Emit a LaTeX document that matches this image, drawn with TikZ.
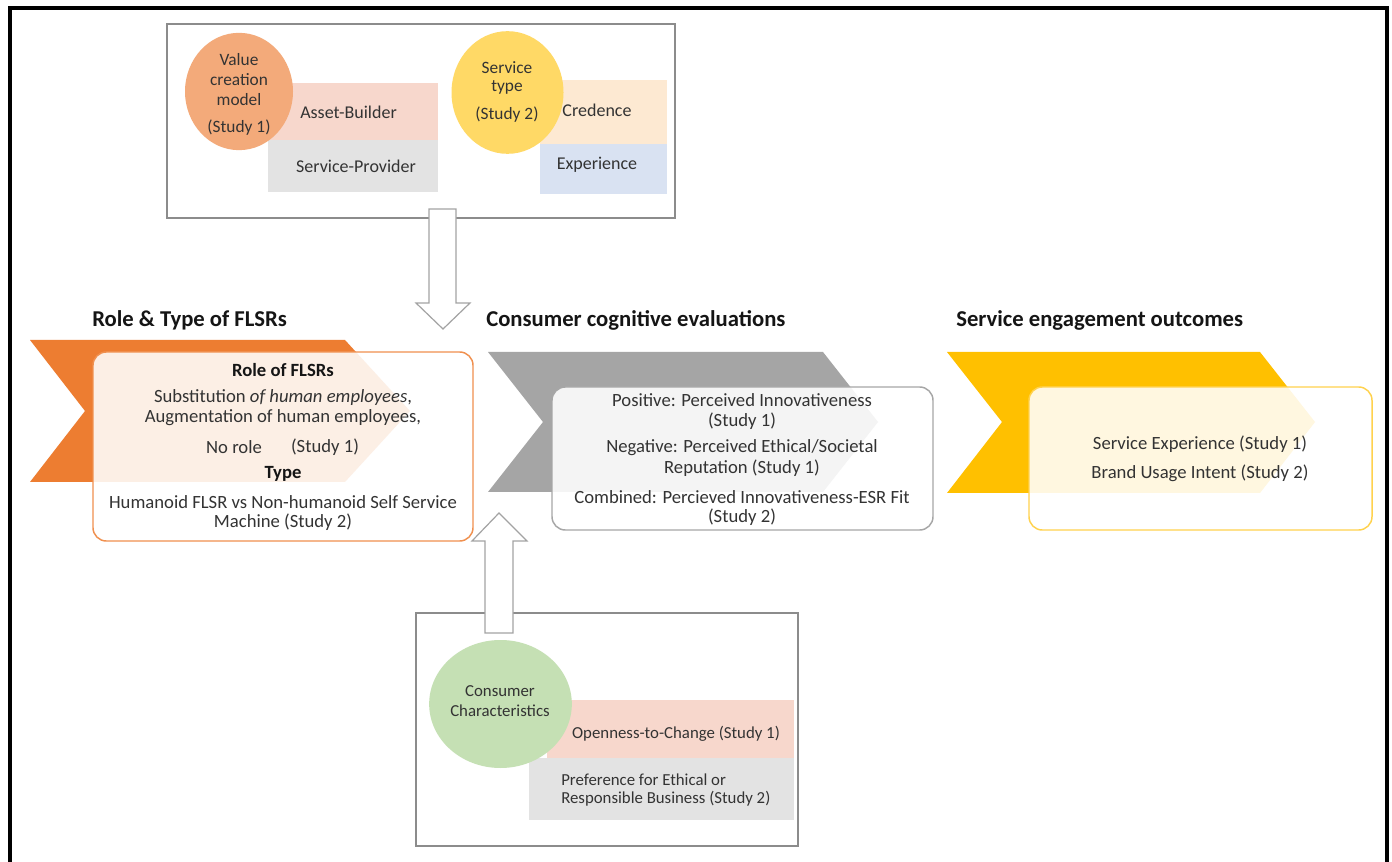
\documentclass[tikz,border=0pt]{standalone}
\usepackage{fontspec}
\setmainfont{Carlito}
\usetikzlibrary{shapes.geometric}
\definecolor{txt}{HTML}{333333}
\definecolor{head}{HTML}{151515}
\definecolor{boxgray}{HTML}{8C8C8C}
\definecolor{corange}{HTML}{F3AA7A}
\definecolor{cyellow}{HTML}{FFD966}
\definecolor{cgreen}{HTML}{C5E0B4}
\definecolor{rpink}{HTML}{F7D7CC}
\definecolor{rgray}{HTML}{E3E3E3}
\definecolor{rpeach}{HTML}{FDE9D2}
\definecolor{rblue}{HTML}{D9E2F2}
\definecolor{chorange}{HTML}{ED7D31}
\definecolor{chgray}{HTML}{A5A5A5}
\definecolor{chyellow}{HTML}{FFC000}
\definecolor{bdorange}{HTML}{F0904F}
\definecolor{bdgray}{HTML}{A6A6A6}
\definecolor{bdyellow}{HTML}{FFD24D}
\tikzset{
  t/.style={inner sep=0pt, text=txt, font=\fontsize{13.5}{15}\selectfont},
  tc/.style={inner sep=0pt, text=txt, font=\fontsize{13}{15}\selectfont},
  tl/.style={inner sep=0pt, text=txt, font=\fontsize{12.6}{15}\selectfont},
  tb/.style={inner sep=0pt, text=txt, font=\fontsize{14}{16}\selectfont},
  tbb/.style={inner sep=0pt, text=head, font=\fontsize{14}{16}\selectfont\bfseries},
  hd/.style={inner sep=0pt, text=head, font=\fontsize{17}{20}\selectfont\bfseries, anchor=west},
  frame/.style={draw=boxgray, line width=1.1pt, fill=white},
  blockarrow/.style={draw=boxgray!80, line width=0.9pt, fill=white},
  rbox/.style={rectangle, rounded corners=10pt, line width=1.1pt, fill=white, fill opacity=0.88, text opacity=1, inner sep=0pt},
  rect/.style={rectangle, inner sep=0pt, draw=none},
  bub/.style={ellipse, inner sep=0pt, draw=none},
}
\begin{document}
\begin{tikzpicture}[x=0.75pt,y=-0.75pt]
\useasboundingbox (0,0) rectangle (1392,862);
\fill[white] (0,0) rectangle (1392,862);
% outer frame
\draw[line width=2.3pt, black] (10,870) -- (10,8) -- (1387,8) -- (1387,870);

% ---------- top box
\node[frame, rectangle, minimum width=381pt, minimum height=145.5pt, inner sep=0pt] (top) at (421,121) {};
\node[rect, fill=rpink, minimum width=127.5pt, minimum height=42.75pt] (ab) at (353,111.5) {};
\node[rect, fill=rgray, minimum width=127.5pt, minimum height=39pt] (sp) at (353,166) {};
\node[bub, fill=corange, minimum width=81pt, minimum height=88pt] (vc) at (239,91.5) {};
\node[t, anchor=west] (abt) at (300,112) {Asset-Builder};
\node[t] (spt) at (356,166) {Service-Provider};
\node[tc] (vc1) at (239,60) {Value};
\node[tc] (vc2) at (239,80) {creation};
\node[tc] (vc3) at (239,100) {model};
\node[tc] (vc4) at (239,128) {(Study 1)};

\node[rect, fill=rpeach, minimum width=95.25pt, minimum height=48pt] (cr) at (603.5,112) {};
\node[rect, fill=rblue, minimum width=95.25pt, minimum height=37.5pt] (ex) at (603.5,169) {};
\node[bub, fill=cyellow, minimum width=84pt, minimum height=92pt] (st) at (507.5,92.5) {};
\node[t] (crt) at (597,110) {Credence};
\node[t] (ext) at (597,165) {Experience};
\node[tc] (st1) at (507,68) {Service};
\node[tc] (st2) at (507,87) {type};
\node[tc] (st3) at (507,115) {(Study 2)};

% down arrow
\draw[blockarrow] (429,209) -- (456,209) -- (456,303) -- (470,303) -- (443,329) -- (416,303) -- (429,303) -- cycle;

% ---------- headings
\node[hd] (h1) at (92,320) {Role \& Type of FLSRs};
\node[hd] (h2) at (486,320) {Consumer cognitive evaluations};
\node[hd] (h3) at (956,320) {Service engagement outcomes};

% ---------- chevrons
\fill[chorange] (30,340) -- (345,340) -- (410,411) -- (345,482) -- (30,482) -- (85,411) -- cycle;
\fill[chgray] (488,352) -- (823,352) -- (878,422) -- (823,492) -- (488,492) -- (543,422) -- cycle;
\fill[chyellow] (947,352) -- (1260,352) -- (1315,422) -- (1260,493) -- (947,493) -- (1002,422) -- cycle;

% ---------- content boxes
\node[rbox, draw=bdorange, minimum width=285pt, minimum height=141.75pt] (b1) at (283,446.5) {};
\node[rbox, draw=bdgray, minimum width=285.75pt, minimum height=107.25pt] (b2) at (742.5,458.5) {};
\node[rbox, draw=bdyellow, minimum width=257.25pt, minimum height=107.25pt] (b3) at (1200.5,458.5) {};

\node[tbb] (b1a) at (283,370) {Role of FLSRs};
\node[tb] (b1b) at (283,398) {Substitution \textit{of human employees},};
\node[tb] (b1c) at (283,418) {Augmentation of human employees,};
\node[tb] (b1d) at (234,447) {No role};
\node[tb] (b1e) at (325,447) {(Study 1)};
\node[tbb] (b1f) at (283,474) {Type};
\node[tb] (b1g) at (283,502) {Humanoid FLSR vs Non-humanoid Self Service};
\node[tb] (b1h) at (283,522) {Machine (Study 2)};

\node[tb] (b2a) at (742,400) {Positive: Perceived Innovativeness};
\node[tb] (b2b) at (742,421) {(Study 1)};
\node[tb] (b2c) at (742,448) {Negative: Perceived Ethical/Societal};
\node[tb] (b2d) at (742,468) {Reputation (Study 1)};
\node[tb] (b2e) at (742,497) {Combined: Percieved Innovativeness-ESR Fit};
\node[tb] (b2f) at (742,517) {(Study 2)};

\node[tb] (b3a) at (1200,444) {Service Experience (Study 1)};
\node[tb] (b3b) at (1200,473) {Brand Usage Intent (Study 2)};

% ---------- bottom box
\node[frame, rectangle, minimum width=286.5pt, minimum height=174.75pt, inner sep=0pt] (bot) at (607,729.5) {};
\node[rect, fill=rpink, minimum width=185.25pt, minimum height=43.5pt] (op) at (670.5,729) {};
\node[rect, fill=rgray, minimum width=198.75pt, minimum height=46.5pt] (pr) at (661.5,789) {};
\node[bub, fill=cgreen, minimum width=107pt, minimum height=96pt] (cc) at (500.5,704) {};
\node[tl] (cc1) at (500,691) {Consumer};
\node[tl] (cc2) at (500,711) {Characteristics};
\node[tl] (opt) at (676,734) {Openness-to-Change (Study 1)};
\node[tl, anchor=west] (prt1) at (561,780) {Preference for Ethical or};
\node[tl, anchor=west] (prt2) at (561,799) {Responsible Business (Study 2)};

% up arrow
\draw[blockarrow] (485,633) -- (513,633) -- (513,541) -- (527,541) -- (499,513) -- (472,541) -- (485,541) -- cycle;
\end{tikzpicture}
\end{document}
